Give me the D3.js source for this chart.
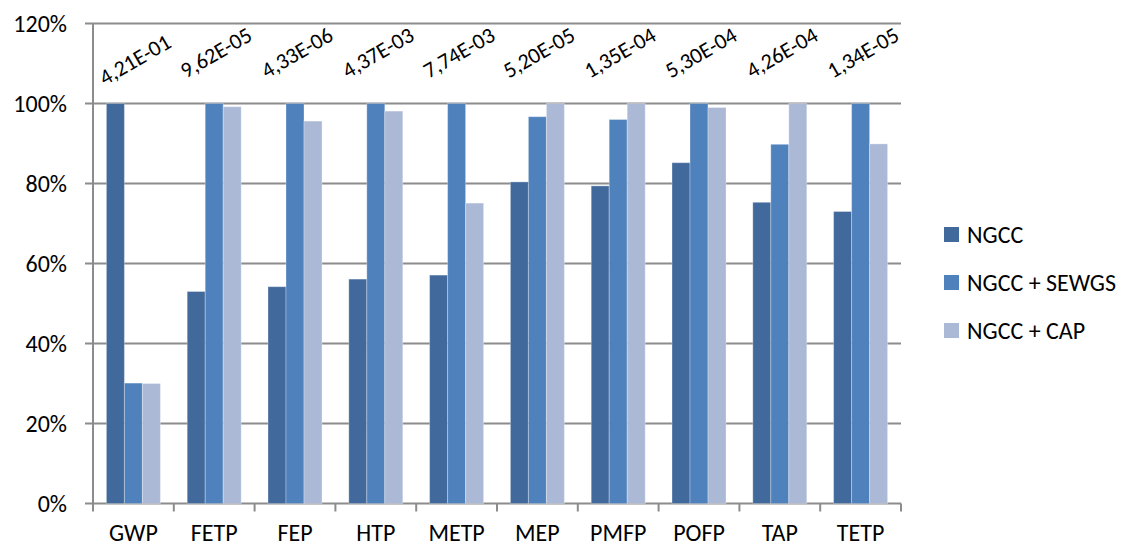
<!DOCTYPE html>
<html>
<head>
<meta charset="utf-8">
<script src="https://cdn.jsdelivr.net/npm/d3@7"></script>
<style>
  html, body { margin: 0; padding: 0; background: #fff; }
  #wrap { position: relative; width: 1135px; height: 550px; }
  svg { display: block; position: absolute; left: 0; top: 0; }
  text, .lbl { font-family: Carlito, Calibri, Lato, "Open Sans", sans-serif; fill: #000; color: #000; }
  .lbl { position: absolute; white-space: nowrap; font-size: 22px; line-height: 1; transform-origin: 50% 50%; }
</style>
</head>
<body>
<div id="wrap"><svg id="chart" width="1135" height="550"></svg></div>
<script>
const categories = ["GWP", "FETP", "FEP", "HTP", "METP", "MEP", "PMFP", "POFP", "TAP", "TETP"];
const seriesNames = ["NGCC", "NGCC + SEWGS", "NGCC + CAP"];
const ngcc  = [100, 53.0, 54.2, 56.1, 57.1, 80.4, 79.4, 85.2, 75.3, 73.0];
const sewgs = [30.1, 100, 100, 100, 100, 96.7, 96.0, 100, 89.8, 100];
const cap   = [30.0, 99.2, 95.6, 98.1, 75.1, 100, 100, 99.0, 100, 89.9];
const topLabels = ["4,21E-01", "9,62E-05", "4,33E-06", "4,37E-03", "7,74E-03",
                   "5,20E-05", "1,35E-04", "5,30E-04", "4,26E-04", "1,34E-05"];
const yTicks = [0, 20, 40, 60, 80, 100, 120];
const colors = ["#41699c", "#4f81bd", "#abb9d7"];

(function () {
const seriesValues = [ngcc, sewgs, cap];
const svg = d3.select("#chart");
const mLeft = 93, mRight = 901, mTop = 23.5, mBottom = 503.5;

const x0 = d3.scaleBand().domain(categories).range([mLeft, mRight]).padding(0);
const x1 = d3.scaleBand().domain(seriesNames).range([0, x0.bandwidth()])
  .paddingInner(0).paddingOuter(0.745);
const y = d3.scaleLinear().domain([0, 120]).range([mBottom, mTop]);

// gridlines
svg.append("g").selectAll("line").data(yTicks).join("line")
  .attr("x1", mLeft - 8).attr("x2", mRight)
  .attr("y1", d => y(d)).attr("y2", d => y(d))
  .attr("stroke", "#8c8c8c").attr("stroke-width", 2);

// y axis line
svg.append("line").attr("x1", mLeft).attr("x2", mLeft)
  .attr("y1", mTop).attr("y2", mBottom + 8)
  .attr("stroke", "#8c8c8c").attr("stroke-width", 2);

// x ticks at category boundaries
const bounds = categories.map(c => x0(c)).concat([mRight]);
svg.append("g").selectAll("line").data(bounds.slice(1)).join("line")
  .attr("x1", d => d).attr("x2", d => d)
  .attr("y1", mBottom).attr("y2", mBottom + 8)
  .attr("stroke", "#8c8c8c").attr("stroke-width", 2);

// y tick labels
svg.append("g").selectAll("text").data(yTicks).join("text")
  .attr("x", 67).attr("y", d => y(d) + 8)
  .attr("text-anchor", "end")
  .attr("font-size", 24)
  .text(d => d + "%");

// bars
const rows = categories.map((c, i) => ({ cat: c, vals: seriesNames.map((s, j) => ({ s, j, v: seriesValues[j][i] })) }));
const groups = svg.append("g").selectAll("g").data(rows).join("g")
  .attr("transform", d => `translate(${x0(d.cat)},0)`);
groups.selectAll("rect").data(d => d.vals).join("rect")
  .attr("x", d => x1(d.s)).attr("width", x1.bandwidth())
  .attr("y", d => y(d.v)).attr("height", d => y(0) - y(d.v))
  .attr("fill", d => colors[d.j])
  .attr("stroke", "#ffffff").attr("stroke-opacity", 0.3).attr("stroke-width", 1);

// category labels
svg.append("g").selectAll("text").data(categories).join("text")
  .attr("x", d => x0(d) + x0.bandwidth() / 2).attr("y", 541)
  .attr("text-anchor", "middle")
  .attr("font-size", 24)
  .text(d => d);

// rotated top labels as HTML
d3.select("#wrap").selectAll("div.lbl").data(categories).join("div")
  .attr("class", "lbl")
  .text((d, i) => topLabels[i])
  .each(function (d, i) {
    const el = this;
    const w = el.offsetWidth, h = el.offsetHeight;
    const cx = x0(d) + x0.bandwidth() / 2 + 2;
    const cy = i === 0 ? 60 : 53;
    el.style.left = (cx - w / 2) + "px";
    el.style.top = (cy - h / 2) + "px";
    el.style.transform = "rotate(-30deg)";
  });

// legend
const legend = svg.append("g").selectAll("g").data(seriesNames).join("g")
  .attr("transform", (d, i) => `translate(944,${227 + i * 48})`);
legend.append("rect").attr("width", 15).attr("height", 15).attr("fill", (d, i) => colors[i]);
legend.append("text").attr("x", 23).attr("y", 15.5)
  .attr("font-size", 24)
  .text(d => d);
})();
</script>
</body>
</html>
